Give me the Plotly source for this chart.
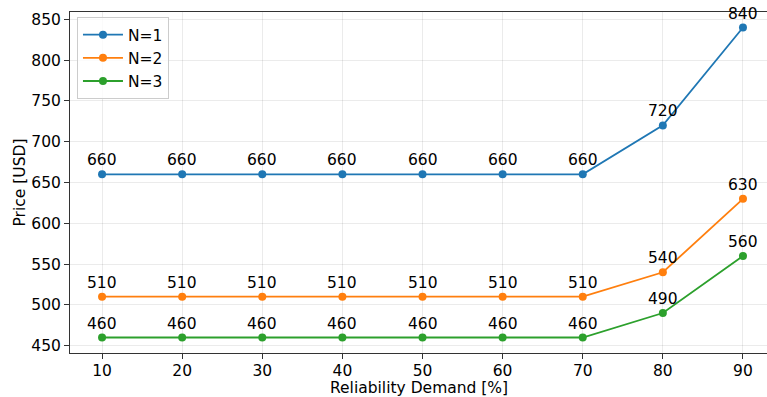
import plotly.graph_objects as go

reliability = [10, 20, 30, 40, 50, 60, 70, 80, 90]
price_n1 = [660, 660, 660, 660, 660, 660, 660, 720, 840]
price_n2 = [510, 510, 510, 510, 510, 510, 510, 540, 630]
price_n3 = [460, 460, 460, 460, 460, 460, 460, 490, 560]
series_names = ["N=1", "N=2", "N=3"]
colors = ["#1f77b4", "#ff7f0e", "#2ca02c"]

FONT = "DejaVu Sans"
FS = 15.5
PLOT_L, PLOT_T, PLOT_B = 70, 12, 353
PLOT_W, PLOT_H = 767 - PLOT_L, PLOT_B - PLOT_T

fig = go.Figure()

annotations = []
for name, vals, col in zip(series_names, [price_n1, price_n2, price_n3], colors):
    fig.add_trace(go.Scatter(
        x=reliability, y=vals, name=name, mode="lines+markers",
        line=dict(color=col, width=1.8),
        marker=dict(color=col, size=8),
    ))
    for xv, yv in zip(reliability, vals):
        annotations.append(dict(
            x=xv, y=yv, xref="x", yref="y", text=str(yv), showarrow=False,
            yanchor="bottom", yshift=3,
            font=dict(family=FONT, size=FS, color="black"),
        ))

# axis titles as paper annotations
annotations.append(dict(
    x=0.5, y=(PLOT_B - 388) / PLOT_H, xref="paper", yref="paper",
    text="Reliability Demand [%]", showarrow=False,
    xanchor="center", yanchor="middle", height=16, valign="middle",
    font=dict(family=FONT, size=FS, color="black"),
))
annotations.append(dict(
    x=(19 - PLOT_L) / PLOT_W, y=0.5, xref="paper", yref="paper",
    text="Price [USD]", showarrow=False, textangle=-90,
    xanchor="center", yanchor="middle",
    font=dict(family=FONT, size=FS, color="black"),
))

fig.update_layout(
    width=767, height=397,
    margin=dict(l=PLOT_L, r=0, t=PLOT_T, b=397 - PLOT_B),
    paper_bgcolor="white", plot_bgcolor="white",
    font=dict(family=FONT, size=FS, color="black"),
    annotations=annotations,
    legend=dict(
        x=0.01, y=0.985, xanchor="left", yanchor="top",
        bordercolor="#cccccc", borderwidth=1, bgcolor="rgba(255,255,255,0.8)",
        font=dict(family=FONT, size=FS),
        itemwidth=40, tracegroupgap=0,
    ),
)

fig.update_xaxes(
    range=[6, 93], tickvals=[10, 20, 30, 40, 50, 60, 70, 80, 90],
    showgrid=True, gridcolor="rgba(0,0,0,0.08)", gridwidth=1,
    showline=True, linecolor="#333333", linewidth=1, mirror=True,
    ticks="outside", ticklen=5, tickcolor="#333333",
    ticklabelstandoff=-2,
    zeroline=False,
)
fig.update_yaxes(
    range=[441, 859], tickvals=[450, 500, 550, 600, 650, 700, 750, 800, 850],
    showgrid=True, gridcolor="rgba(0,0,0,0.08)", gridwidth=1,
    showline=True, linecolor="#333333", linewidth=1,
    ticks="outside", ticklen=5, tickcolor="#333333",
    zeroline=False,
)

fig.write_html("out.html")
